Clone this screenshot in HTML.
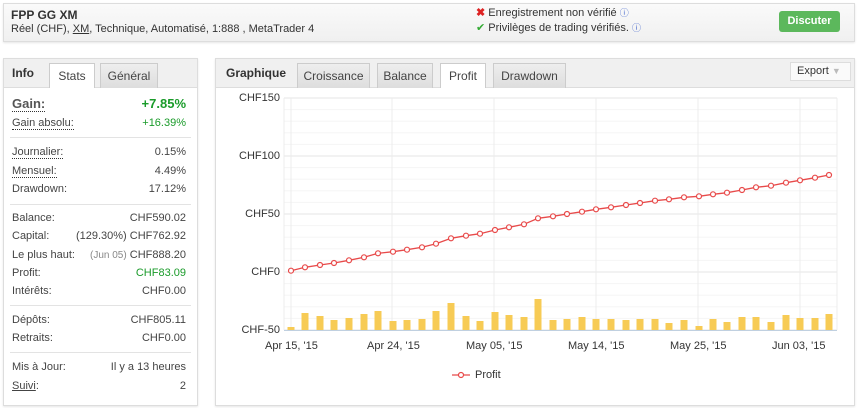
<!DOCTYPE html>
<html><head><meta charset="utf-8"><style>
*{box-sizing:border-box;margin:0;padding:0}
body{width:858px;height:408px;background:#fff;font-family:"Liberation Sans",sans-serif;font-size:11px;color:#333;position:relative;overflow:hidden}
.a{position:absolute;white-space:nowrap}
.box{position:absolute;border:1px solid #ddd;background:#fff;box-shadow:0 1px 2px rgba(0,0,0,.1)}
.tab{position:absolute;top:5px;height:25px;background:linear-gradient(#eee,#ddd);border:1px solid #ccc;border-bottom:none;text-align:center;line-height:24px;font-size:12px;color:#444}
.tab.on{background:#fff}
#lp{position:absolute;left:3px;top:0;width:195px;height:408px}
.r{position:absolute;left:9px;right:12px;font-size:11px;color:#444;white-space:nowrap}
.r span.v{position:absolute;right:0;top:0}
.u{border-bottom:1px dotted #333}
.sep{position:absolute;left:7px;right:7px;border-top:1px solid #e3e3e3}
.yl{position:absolute;width:44px;text-align:right;left:236px;font-size:11px;color:#333}
</style></head><body>
<div class="box" style="left:3px;top:3px;width:852px;height:39px;background:linear-gradient(#fafafa,#f0f0f0)"></div>
<div class="a" style="left:11px;top:8px;font-weight:bold;font-size:12px">FPP GG XM</div>
<div class="a" style="left:11px;top:23px;font-size:11px">Réel (CHF), <u>XM</u>, Technique, Automatisé, 1:888 , MetaTrader 4</div>
<div class="a" style="left:476px;top:6px;font-size:11px"><span style="color:#d22;font-weight:bold">✖</span> Enregistrement non vérifié <span style="color:#46c;font-size:9px">ⓘ</span></div>
<div class="a" style="left:476px;top:21px;font-size:11px"><span style="color:#3a3">✔</span> Privilèges de trading vérifiés. <span style="color:#46c;font-size:9px">ⓘ</span></div>
<div class="a" style="left:779px;top:11px;width:61px;height:21px;background:#5cb85c;border-radius:3px;color:#fff;font-weight:bold;font-size:11px;text-align:center;line-height:21px">Discuter</div>

<div class="box" style="left:3px;top:58px;width:195px;height:348px"></div>
<div class="a" style="left:4px;top:59px;width:193px;height:29px;background:#f0f0f0;border-bottom:1px solid #ddd"></div>
<div class="a" style="left:12px;top:66px;font-weight:bold;font-size:12px">Info</div>
<div class="tab on" style="left:49px;top:63px;width:46px">Stats</div>
<div class="tab" style="left:100px;top:63px;width:58px">Général</div>
<div id="lp">
<div class="r" style="top:96px;font-size:13px;font-weight:bold;color:#555"><span class="u">Gain:</span><span class="v" style="color:#1a9b2a">+7.85%</span></div>
<div class="r" style="top:117px"><span class="u">Gain absolu:</span><span class="v" style="color:#1a9b2a">+16.39%</span></div>
<div class="sep" style="top:137px"></div>
<div class="r" style="top:146px"><span class="u">Journalier:</span><span class="v">0.15%</span></div>
<div class="r" style="top:165px"><span class="u">Mensuel:</span><span class="v">4.49%</span></div>
<div class="r" style="top:183px">Drawdown:<span class="v">17.12%</span></div>
<div class="sep" style="top:204px"></div>
<div class="r" style="top:212px">Balance:<span class="v">CHF590.02</span></div>
<div class="r" style="top:230px">Capital:<span class="v">(129.30%) CHF762.92</span></div>
<div class="r" style="top:249px">Le plus haut:<span class="v"><span style="color:#888;font-size:10px">(Jun 05)</span> CHF888.20</span></div>
<div class="r" style="top:267px">Profit:<span class="v" style="color:#1a9b2a">CHF83.09</span></div>
<div class="r" style="top:285px">Intérêts:<span class="v">CHF0.00</span></div>
<div class="sep" style="top:305px"></div>
<div class="r" style="top:314px">Dépôts:<span class="v">CHF805.11</span></div>
<div class="r" style="top:332px">Retraits:<span class="v">CHF0.00</span></div>
<div class="sep" style="top:352px"></div>
<div class="r" style="top:361px">Mis à Jour:<span class="v">Il y a 13 heures</span></div>
<div class="r" style="top:380px"><u>Suivi</u>:<span class="v">2</span></div>
</div>

<div class="box" style="left:215px;top:58px;width:640px;height:348px"></div>
<div class="a" style="left:216px;top:59px;width:638px;height:29px;background:#f0f0f0;border-bottom:1px solid #ddd"></div>
<div class="a" style="left:226px;top:66px;font-weight:bold;font-size:12px">Graphique</div>
<div class="tab" style="left:297px;top:63px;width:73px">Croissance</div>
<div class="tab" style="left:377px;top:63px;width:56px">Balance</div>
<div class="tab on" style="left:440px;top:63px;width:46px">Profit</div>
<div class="tab" style="left:493px;top:63px;width:73px">Drawdown</div>
<div class="a" style="left:790px;top:62px;width:61px;height:19px;border:1px solid #ddd;background:#fafafa;font-size:11px;line-height:17px;padding-left:6px">Export <span style="color:#bbb;font-size:9px">▼</span></div>

<svg class="a" style="left:0;top:0" width="858" height="408" id="s"></svg>
<div class="yl" style="top:92px">CHF150</div>
<div class="yl" style="top:150px">CHF100</div>
<div class="yl" style="top:208px">CHF50</div>
<div class="yl" style="top:266px">CHF0</div>
<div class="yl" style="top:324px">CHF-50</div>
<div class="a" style="left:265px;top:340px;font-size:11px">Apr 15, '15</div>
<div class="a" style="left:367px;top:340px;font-size:11px">Apr 24, '15</div>
<div class="a" style="left:466px;top:340px;font-size:11px">May 05, '15</div>
<div class="a" style="left:568px;top:340px;font-size:11px">May 14, '15</div>
<div class="a" style="left:670px;top:340px;font-size:11px">May 25, '15</div>
<div class="a" style="left:772px;top:340px;font-size:11px">Jun 03, '15</div>
<div class="a" style="left:475px;top:369px;font-size:11px">Profit</div>
<script>
var xs=[291,305,320,334,349,364,378,393,407,422,436,451,466,480,495,509,524,538,553,567,582,596,611,626,640,655,669,684,699,713,727,742,756,771,786,800,815,829];
var ys=[270.7,267.3,265,263,260.3,257.3,253.3,251.7,249.7,247.3,243.7,238.3,235.7,233.7,230,227.3,224.3,218.3,216.3,214,211.7,209.3,207.3,205,203,200.7,199.3,197.3,196.3,194.3,192.7,190,187.3,185.7,182.7,180.3,177.7,175];
var bh=[3,17,14,10,12,16,19,9,10,11,19,27,14,9,18,15,13,31,10,11,13,11,11,10,11,11,7,10,4,11,8,13,13,8,15,12,12,16];
var s='';
for(var i=0;i<=20;i++){var y=98+i*11.6;s+='<line x1="284" x2="837" y1="'+y+'" y2="'+y+'" stroke="'+(i%5==0?'#e6e6e6':'#f5f5f5')+'"/>';}
[284,291,392,494,596,698,800,837].forEach(function(x){s+='<line x1="'+x+'" x2="'+x+'" y1="98" y2="330" stroke="#ececec"/>';});
for(var i=0;i<38;i++){s+='<rect x="'+(xs[i]-3.5)+'" y="'+(330-bh[i])+'" width="7" height="'+bh[i]+'" fill="#f7cb55"/>';}
s+='<line x1="284" x2="837" y1="330.5" y2="330.5" stroke="#c0d0e0"/>';
var p=xs.map(function(x,i){return x+','+ys[i]}).join(' ');
s+='<polyline points="'+p+'" fill="none" stroke="#e84a4a" stroke-width="1.3"/>';
for(var i=0;i<38;i++)s+='<circle cx="'+xs[i]+'" cy="'+ys[i]+'" r="2.5" fill="#fff" stroke="#e84a4a" stroke-width="1.2"/>';
s+='<line x1="452" x2="470" y1="375" y2="375" stroke="#e84a4a" stroke-width="1.3"/><circle cx="461" cy="375" r="2.5" fill="#fff" stroke="#e84a4a" stroke-width="1.2"/>';
document.getElementById('s').innerHTML=s;
</script>
</body></html>
